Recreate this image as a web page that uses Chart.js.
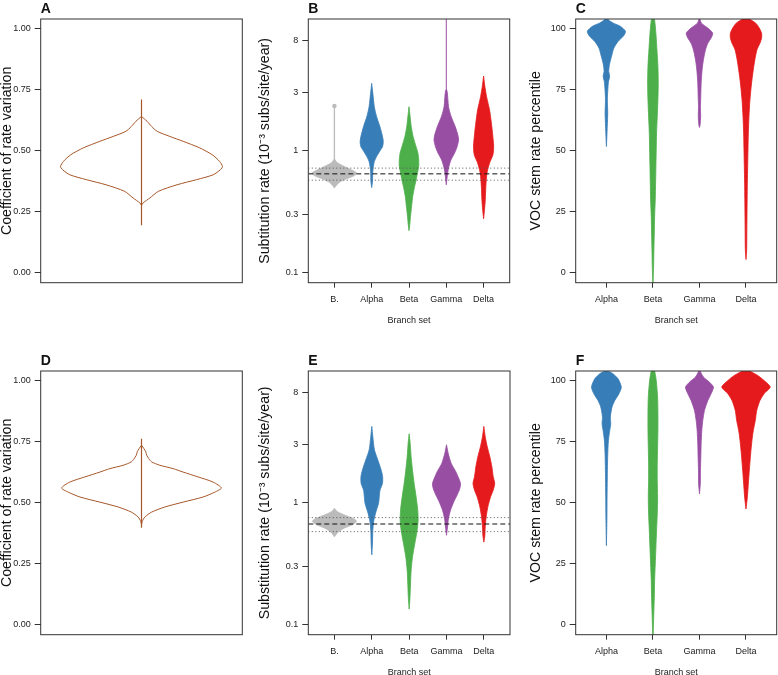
<!DOCTYPE html>
<html>
<head>
<meta charset="utf-8">
<script src="https://cdn.jsdelivr.net/npm/chart.js@4.4.1/dist/chart.umd.min.js"></script>
<style>
  html, body { margin: 0; padding: 0; background: #fff; overflow: hidden; }
  #fig { position: relative; width: 778px; height: 675px; overflow: hidden; }
  #fig canvas { position: absolute; }
</style>
</head>
<body>
<div id="fig"></div>
<script>
/* ================= DATA ================= */
// tick labels + categories
const cvTicks = [0, 0.25, 0.5, 0.75, 1];
const rateTicks = [0.1, 0.3, 1, 3, 8];
const pctTicks = [0, 25, 50, 75, 100];
const rateCats = ["B.", "Alpha", "Beta", "Gamma", "Delta"];
const vocCats = ["Alpha", "Beta", "Gamma", "Delta"];

// violin profiles: y = value, w = half width (in category units)
// A / D : coefficient of rate variation
const aY = [0.277, 0.287, 0.307, 0.334, 0.361, 0.382, 0.402, 0.423, 0.436, 0.457, 0.484, 0.512, 0.539, 0.559, 0.58, 0.60, 0.621, 0.641];
const aW = [0, 0.009, 0.045, 0.09, 0.19, 0.295, 0.384, 0.423, 0.434, 0.418, 0.379, 0.312, 0.223, 0.152, 0.084, 0.054, 0.03, 0];
const aRange = [0.195, 0.71];

const dY = [0.41, 0.424, 0.442, 0.462, 0.483, 0.503, 0.524, 0.544, 0.561, 0.585, 0.606, 0.626, 0.64, 0.654, 0.668, 0.681, 0.695, 0.709, 0.722, 0.736];
const dW = [0, 0.004, 0.018, 0.054, 0.125, 0.223, 0.33, 0.393, 0.428, 0.384, 0.304, 0.223, 0.17, 0.098, 0.054, 0.039, 0.028, 0.023, 0.013, 0];
const dRange = [0.398, 0.763];

// B : substitution rate (first tree)
const bGrayY = [0.495, 0.511, 0.551, 0.587, 0.625, 0.658, 0.700, 0.745, 0.794, 0.834, 0.86];
const bGrayW = [0, 0.03, 0.13, 0.31, 0.53, 0.60, 0.45, 0.27, 0.09, 0.03, 0];
const bAlphaY = [0.50, 0.561, 0.656, 0.745, 0.818, 0.897, 1.02, 1.08, 1.19, 1.31, 1.58, 1.91, 2.30, 2.96, 3.57];
const bAlphaW = [0, 0.022, 0.027, 0.045, 0.07, 0.13, 0.24, 0.29, 0.31, 0.29, 0.22, 0.13, 0.07, 0.03, 0];
const bBetaY = [0.222, 0.248, 0.29, 0.351, 0.424, 0.511, 0.575, 0.646, 0.745, 0.841, 0.957, 1.08, 1.31, 1.58, 1.91, 2.30];
const bBetaW = [0, 0.02, 0.04, 0.07, 0.10, 0.15, 0.19, 0.22, 0.26, 0.26, 0.24, 0.19, 0.11, 0.06, 0.03, 0];
const bGammaY = [0.527, 0.656, 0.745, 0.843, 0.957, 1.08, 1.23, 1.35, 1.58, 1.91, 2.30, 2.96, 3.16];
const bGammaW = [0, 0.035, 0.07, 0.125, 0.22, 0.29, 0.33, 0.31, 0.24, 0.13, 0.06, 0.03, 0.01];
const bDeltaY = [0.278, 0.33, 0.398, 0.511, 0.656, 0.794, 0.927, 1.08, 1.39, 1.68, 2.16, 2.78, 3.36, 4.10];
const bDeltaW = [0, 0.025, 0.045, 0.06, 0.09, 0.16, 0.25, 0.27, 0.24, 0.21, 0.16, 0.08, 0.035, 0];
const bGrayStem = [0.8, 2.33];
const bGammaStem = [3.0, 12.5];
const bRef = 0.648;
const bBand = [0.575, 0.722];

// C : VOC stem rate percentile (first tree)
const cAlphaY = [51.8, 55.9, 60, 65.5, 70.9, 75, 78.4, 80.5, 82.5, 85.3, 88.7, 92.1, 94.8, 96.9, 98.9, 101, 102.3, 103.7, 105];
const cAlphaW = [0, 0.01, 0.018, 0.028, 0.02, 0.03, 0.045, 0.07, 0.05, 0.065, 0.11, 0.16, 0.25, 0.36, 0.41, 0.3, 0.15, 0.04, 0];
const cBetaY = [-5, -3.4, 2.7, 9.5, 16.4, 23.2, 30, 36.8, 43.7, 50.5, 57.3, 64.1, 70.9, 77.8, 84.6, 91.4, 98, 103.5, 106];
const cBetaW = [0, 0.004, 0.014, 0.021, 0.029, 0.036, 0.05, 0.057, 0.064, 0.071, 0.078, 0.093, 0.107, 0.114, 0.107, 0.086, 0.064, 0.036, 0];
const cGammaY = [59.6, 60.7, 64.1, 68.2, 72.3, 77.8, 83.2, 87.3, 91.4, 94.1, 96.2, 98.2, 100.3, 102.3, 103.7, 105];
const cGammaW = [0, 0.014, 0.025, 0.021, 0.028, 0.036, 0.057, 0.085, 0.13, 0.18, 0.25, 0.285, 0.18, 0.043, 0.014, 0];
const cDeltaY = [5.5, 9.5, 16.4, 23.2, 30, 36.8, 43.7, 50.5, 57.3, 64.1, 70.9, 77.8, 83.2, 87.3, 91.4, 94.1, 96.2, 98.2, 100.3, 102.3, 104, 106];
const cDeltaW = [0, 0.014, 0.018, 0.021, 0.025, 0.029, 0.036, 0.043, 0.05, 0.064, 0.085, 0.12, 0.157, 0.19, 0.235, 0.3, 0.335, 0.335, 0.285, 0.21, 0.08, 0];

// E : substitution rate (second tree)
const eGrayY = [0.527, 0.542, 0.577, 0.622, 0.664, 0.706, 0.743, 0.792, 0.843, 0.887, 0.902];
const eGrayW = [0, 0.03, 0.10, 0.27, 0.49, 0.59, 0.51, 0.29, 0.09, 0.02, 0];
const eAlphaY = [0.375, 0.462, 0.596, 0.719, 0.843, 0.989, 1.12, 1.27, 1.44, 1.64, 1.86, 2.25, 2.72, 3.50, 4.23];
const eAlphaW = [0, 0.018, 0.027, 0.055, 0.11, 0.18, 0.2, 0.22, 0.285, 0.29, 0.25, 0.16, 0.07, 0.027, 0];
const eBetaY = [0.135, 0.168, 0.216, 0.279, 0.359, 0.462, 0.596, 0.719, 0.871, 1.12, 1.44, 1.86, 2.39, 3.08, 3.68];
const eBetaW = [0, 0.022, 0.036, 0.053, 0.089, 0.15, 0.214, 0.24, 0.23, 0.187, 0.134, 0.089, 0.053, 0.027, 0];
const eGammaY = [0.542, 0.634, 0.743, 0.871, 1.02, 1.16, 1.31, 1.44, 1.58, 1.80, 2.11, 2.55, 2.99];
const eGammaW = [0, 0.027, 0.053, 0.107, 0.196, 0.285, 0.356, 0.375, 0.33, 0.25, 0.125, 0.045, 0];
const eDeltaY = [0.477, 0.542, 0.634, 0.767, 0.927, 1.12, 1.27, 1.44, 1.64, 1.98, 2.39, 2.90, 3.50, 4.23];
const eDeltaW = [0, 0.027, 0.036, 0.062, 0.107, 0.18, 0.25, 0.29, 0.25, 0.214, 0.16, 0.089, 0.036, 0];
const eRef = 0.671;
const eBand = [0.581, 0.757];

// F : VOC stem rate percentile (second tree)
const fAlphaY = [32.5, 44.1, 52.3, 63.3, 70.1, 75.5, 79.6, 82.4, 85.1, 89.2, 91.9, 94.7, 97.4, 100.8, 102.9, 104, 105];
const fAlphaW = [0, 0.011, 0.014, 0.021, 0.029, 0.043, 0.071, 0.093, 0.085, 0.12, 0.18, 0.27, 0.32, 0.25, 0.14, 0.04, 0];
const fBetaY = [-5, -3.7, 4.5, 11.3, 18.2, 25, 31.8, 38.7, 45.5, 52.3, 59.2, 66, 72.8, 79.6, 86.5, 93.3, 100.1, 104, 106];
const fBetaW = [0, 0.005, 0.018, 0.029, 0.036, 0.05, 0.064, 0.078, 0.093, 0.1, 0.093, 0.093, 0.1, 0.107, 0.107, 0.1, 0.071, 0.036, 0];
const fGammaY = [53.7, 57.8, 63.3, 68.7, 74.2, 79.6, 83.7, 87.8, 91.9, 94.7, 97.4, 99.5, 101.5, 104, 105];
const fGammaW = [0, 0.018, 0.021, 0.029, 0.036, 0.05, 0.071, 0.107, 0.18, 0.25, 0.3, 0.21, 0.086, 0.014, 0];
const fDeltaY = [47.5, 52.3, 57.8, 63.3, 70.1, 75.5, 79.6, 83.7, 87.8, 91.9, 94.7, 97.4, 100.1, 102.2, 104, 106];
const fDeltaW = [0, 0.029, 0.05, 0.071, 0.1, 0.128, 0.157, 0.2, 0.23, 0.3, 0.39, 0.52, 0.39, 0.25, 0.085, 0];

/* ================= STYLE / LAYOUT ================= */
const FONT = '"Liberation Sans", Arial, Helvetica, sans-serif';
const COLORS = { "B.": "#BBBBBB", Alpha: "#377EB8", Beta: "#4DAF4A", Gamma: "#984EA3", Delta: "#E41A1C" };
const CV_COLOR = "#A65628";
const AXIS_COLOR = "#333";

const CANVAS_H = 345;
const ROWS = [0, 352];
const PAD_TOP = 19;
const X_H = 62.3;
const COLS = {
  cv:   { left: 0,   width: 250, axisW: 40.7, padR: 7.7, titlePad: -1 },
  rate: { left: 250, width: 265, axisW: 58.3, padR: 5,   titlePad: 6.5 },
  pct:  { left: 515, width: 263, axisW: 60.7, padR: 1.3, titlePad: 13 }
};
const CV_X = [0.46, 1.54];
const RATE_X = [0.3, 5.7];
const PCT_X = [0.34, 4.66];
const RATE_Y = [Math.pow(10, -1.08), Math.pow(10, 1.08)];
const LIN_Y = [-0.04, 1.04];
const PCT_Y = [-4, 104];

Chart.defaults.font.family = FONT;
Chart.defaults.color = "#222";

/* ================= PLUGIN: frame + panel letter ================= */
const panelPlugin = {
  id: "panel",
  afterDatasetsDraw(chart, args, opts) {
    const { ctx, chartArea: a } = chart;
    ctx.save();
    ctx.strokeStyle = AXIS_COLOR;
    ctx.lineWidth = 1;
    ctx.strokeRect(a.left, a.top, a.right - a.left, a.bottom - a.top);
    ctx.fillStyle = "#111";
    ctx.font = "bold 14px " + FONT;
    ctx.textBaseline = "alphabetic";
    ctx.fillText(opts.letter, a.left, a.top - 6.5);
    ctx.restore();
  }
};

/* ================= DATASET HELPERS ================= */
function violin(center, ys, ws, color, outline) {
  const right = ys.map((y, i) => ({ x: center + ws[i], y }));
  const left = ys.map((y, i) => ({ x: center - ws[i], y })).reverse();
  return {
    data: right.concat(left),
    borderColor: color,
    backgroundColor: color,
    borderWidth: outline ? 1 : 0.8,
    fill: outline ? false : "shape",
    pointRadius: 0,
    tension: 0.25,
    order: 2
  };
}

function stem(center, range, color, width, dotTop) {
  return {
    data: [{ x: center, y: range[0] }, { x: center, y: range[1] }],
    borderColor: color,
    backgroundColor: color,
    borderWidth: width,
    pointRadius: dotTop ? [0, 1.6] : 0,
    fill: false,
    order: 1
  };
}

function hline(y, xr, dash, color) {
  return {
    data: [{ x: xr[0], y }, { x: xr[1], y }],
    borderColor: color,
    borderWidth: 1,
    borderDash: dash,
    pointRadius: 0,
    fill: false,
    order: 0
  };
}

/* ================= AXES ================= */
function yAxis(col, type, range, ticks, fmt, title) {
  return {
    type, min: range[0], max: range[1],
    afterBuildTicks: s => { s.ticks = ticks.map(v => ({ value: v })); },
    afterFit: s => { s.width = col.axisW; },
    ticks: { callback: (v, i) => fmt(ticks[i]), font: { size: 9 }, color: "#222", padding: 4, autoSkip: false },
    grid: { drawOnChartArea: false, tickLength: 6, color: AXIS_COLOR },
    border: { display: false },
    title: { display: true, text: title, font: { size: 14.2 }, color: "#111", padding: { top: col.titlePad, bottom: 0 } }
  };
}

function xAxis(range, cats) {
  if (!cats) {
    return {
      type: "linear", min: range[0], max: range[1],
      ticks: { display: false }, grid: { display: false }, border: { display: false },
      afterFit: s => { s.height = X_H; }
    };
  }
  return {
    type: "linear", min: range[0], max: range[1],
    afterBuildTicks: s => { s.ticks = cats.map((c, i) => ({ value: i + 1 })); },
    afterFit: s => { s.height = X_H; },
    ticks: { callback: (v, i) => cats[i], font: { size: 9 }, color: "#222", padding: 6, autoSkip: false, maxRotation: 0 },
    grid: { drawOnChartArea: false, tickLength: 5, color: AXIS_COLOR },
    border: { display: false },
    title: { display: true, text: "Branch set", font: { size: 9 }, color: "#222", padding: { top: 0, bottom: 18.9 } }
  };
}

/* ================= CHART BUILD ================= */
function makeChart(col, row, letter, datasets, xScale, yScale) {
  const c = document.createElement("canvas");
  c.width = col.width;
  c.height = CANVAS_H;
  c.style.left = col.left + "px";
  c.style.top = row + "px";
  document.getElementById("fig").appendChild(c);

  return new Chart(c, {
    type: "line",
    data: { datasets },
    options: {
      responsive: false,
      animation: false,
      events: [],
      layout: { padding: { top: PAD_TOP, right: col.padR, left: 0, bottom: 0 } },
      plugins: { legend: { display: false }, tooltip: { enabled: false }, panel: { letter } },
      scales: { x: xScale, y: yScale }
    },
    plugins: [panelPlugin]
  });
}

function cvPanel(row, letter, ys, ws, range) {
  const ds = [
    stem(1, range, CV_COLOR, 1.2, false),
    violin(1, ys, ws, CV_COLOR, true)
  ];
  makeChart(COLS.cv, row, letter, ds, xAxis(CV_X),
    yAxis(COLS.cv, "linear", LIN_Y, cvTicks, v => v.toFixed(2), "Coefficient of rate variation"));
}

function ratePanel(row, letter, title, shapes, stems, ref, band) {
  const ds = [];
  band.forEach(v => ds.push(hline(v, RATE_X, [1, 2.5], "#555")));
  ds.push(hline(ref, RATE_X, [5, 3], "#111"));
  stems.forEach(s => ds.push(stem(s.at, s.range, COLORS[rateCats[s.at - 1]], s.width, s.dot)));
  shapes.forEach((s, i) => ds.push(violin(i + 1, s[0], s[1], COLORS[rateCats[i]], false)));
  makeChart(COLS.rate, row, letter, ds, xAxis(RATE_X, rateCats),
    yAxis(COLS.rate, "logarithmic", RATE_Y, rateTicks, v => String(v), title));
}

function pctPanel(row, letter, shapes) {
  const ds = shapes.map((s, i) => violin(i + 1, s[0], s[1], COLORS[vocCats[i]], false));
  makeChart(COLS.pct, row, letter, ds, xAxis(PCT_X, vocCats),
    yAxis(COLS.pct, "linear", PCT_Y, pctTicks, v => String(v), "VOC stem rate percentile"));
}

/* ================= PANELS ================= */
cvPanel(ROWS[0], "A", aY, aW, aRange);
ratePanel(ROWS[0], "B", "Subtitution rate (10\u207B\u00B3 subs/site/year)",
  [[bGrayY, bGrayW], [bAlphaY, bAlphaW], [bBetaY, bBetaW], [bGammaY, bGammaW], [bDeltaY, bDeltaW]],
  [{ at: 1, range: bGrayStem, width: 1.3, dot: true }, { at: 4, range: bGammaStem, width: 1, dot: false }],
  bRef, bBand);
pctPanel(ROWS[0], "C",
  [[cAlphaY, cAlphaW], [cBetaY, cBetaW], [cGammaY, cGammaW], [cDeltaY, cDeltaW]]);

cvPanel(ROWS[1], "D", dY, dW, dRange);
ratePanel(ROWS[1], "E", "Substitution rate (10\u207B\u00B3 subs/site/year)",
  [[eGrayY, eGrayW], [eAlphaY, eAlphaW], [eBetaY, eBetaW], [eGammaY, eGammaW], [eDeltaY, eDeltaW]],
  [], eRef, eBand);
pctPanel(ROWS[1], "F",
  [[fAlphaY, fAlphaW], [fBetaY, fBetaW], [fGammaY, fGammaW], [fDeltaY, fDeltaW]]);
</script>
</body>
</html>
